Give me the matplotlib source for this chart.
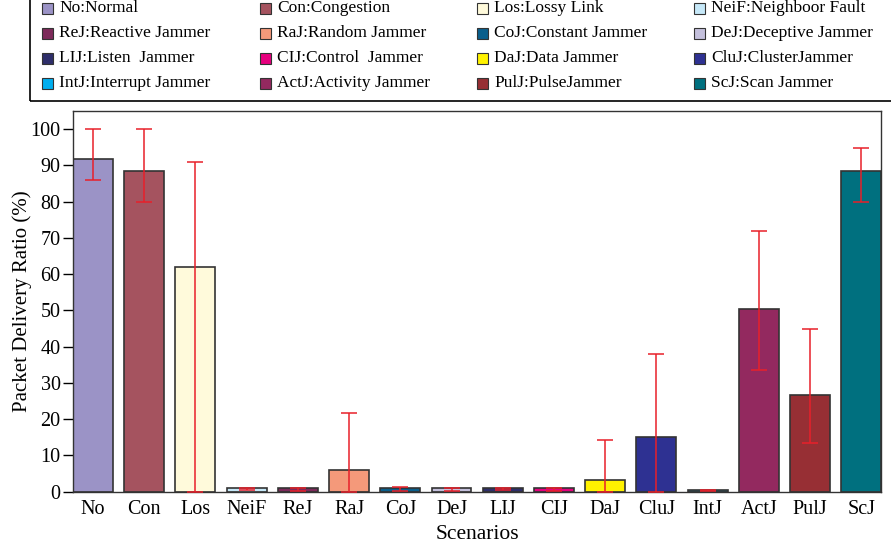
import matplotlib.pyplot as plt
from matplotlib.patches import Rectangle
import numpy as np

plt.rcParams['font.family'] = ['Liberation Serif', 'DejaVu Serif']

# scenario short names, legend descriptions, mean PDR and error range
scenarios = ["No", "Con", "Los", "NeiF", "ReJ", "RaJ", "CoJ", "DeJ",
             "LIJ", "CIJ", "DaJ", "CluJ", "IntJ", "ActJ", "PulJ", "ScJ"]
legend_labels = ["No:Normal", "Con:Congestion", "Los:Lossy Link", "NeiF:Neighboor Fault",
                 "ReJ:Reactive Jammer", "RaJ:Random Jammer", "CoJ:Constant Jammer", "DeJ:Deceptive Jammer",
                 "LIJ:Listen  Jammer", "CIJ:Control  Jammer", "DaJ:Data Jammer", "CluJ:ClusterJammer",
                 "IntJ:Interrupt Jammer", "ActJ:Activity Jammer", "PulJ:PulseJammer", "ScJ:Scan Jammer"]
pdr = [91.7, 88.5, 61.9, 1.0, 0.9, 6.1, 1.0, 1.0, 1.0, 0.9, 3.2, 15.2, 0.5, 50.4, 26.7, 88.5]
err_low = [86.0, 80.0, 0.0, 0.4, 0.3, 0.0, 0.3, 0.3, 0.6, 0.3, 0.0, 0.0, 0.3, 33.6, 13.3, 79.9]
err_high = [100.0, 100.0, 90.8, 1.0, 0.9, 21.6, 1.4, 1.0, 1.0, 0.9, 14.2, 38.0, 0.6, 72.0, 44.9, 94.9]
colors = ["#9b93c6", "#a5535f", "#fffadb", "#c6e8f8", "#7d2a5a", "#f4997a", "#0a5f8c", "#c4c0dc",
          "#2e2e6a", "#e6007e", "#fff200", "#2e3192", "#1c6a86", "#93295f", "#972f34", "#00707f"]
legend_colors = colors[:12] + ["#00aeef"] + colors[13:]

fig = plt.figure(figsize=(8.91, 5.51), dpi=100)
ax = fig.add_axes([0.082, 0.1076, 0.907, 0.691])

x = np.arange(len(scenarios))
pdr_arr = np.array(pdr)
yerr = [pdr_arr - np.array(err_low), np.array(err_high) - pdr_arr]
ax.bar(x, pdr, width=0.78, color=colors, edgecolor="#333333", linewidth=1.2, zorder=2)
ax.errorbar(x, pdr, yerr=yerr, fmt="none", ecolor="#e8202a", elinewidth=1.1,
            capsize=6, capthick=1.1, zorder=3)

ax.set_xlim(-0.39, 15.39)
ax.set_ylim(0, 105)
ax.set_yticks(np.arange(0, 101, 10))
ax.set_xticks(x)
ax.set_xticklabels(scenarios)
ax.tick_params(axis="y", direction="out", length=7, width=1, labelsize=14.5, pad=2)
ax.tick_params(axis="x", length=0, labelsize=14.5, pad=6)
for s in ax.spines.values():
    s.set_color("#333333")
    s.set_linewidth(1.0)
ax.set_xlabel("Scenarios", fontsize=15.5, labelpad=4)
ax.set_ylabel("Packet Delivery Ratio (%)", fontsize=15, labelpad=-1)

# legend box, drawn by hand to match the four column grid
fig.patches.append(Rectangle((30 / 891, 1 - 101 / 551), 2.0, 0.5, transform=fig.transFigure,
                             fill=False, edgecolor="black", linewidth=1.2))
col_x = [42, 260, 477, 694]
row_y = [8, 33, 58, 83]
for i, (lab, c) in enumerate(zip(legend_labels, legend_colors)):
    r, k = divmod(i, 4)
    px, py = col_x[k], row_y[r]
    fig.patches.append(Rectangle((px / 891, 1 - (py + 5.5) / 551), 11 / 891, 11 / 551,
                                 transform=fig.transFigure, facecolor=c,
                                 edgecolor="#333333", linewidth=0.8))
    fig.text((px + 17) / 891, 1 - py / 551, lab, fontsize=12.5, va="center", ha="left")

fig.savefig("out.png", dpi=100)
